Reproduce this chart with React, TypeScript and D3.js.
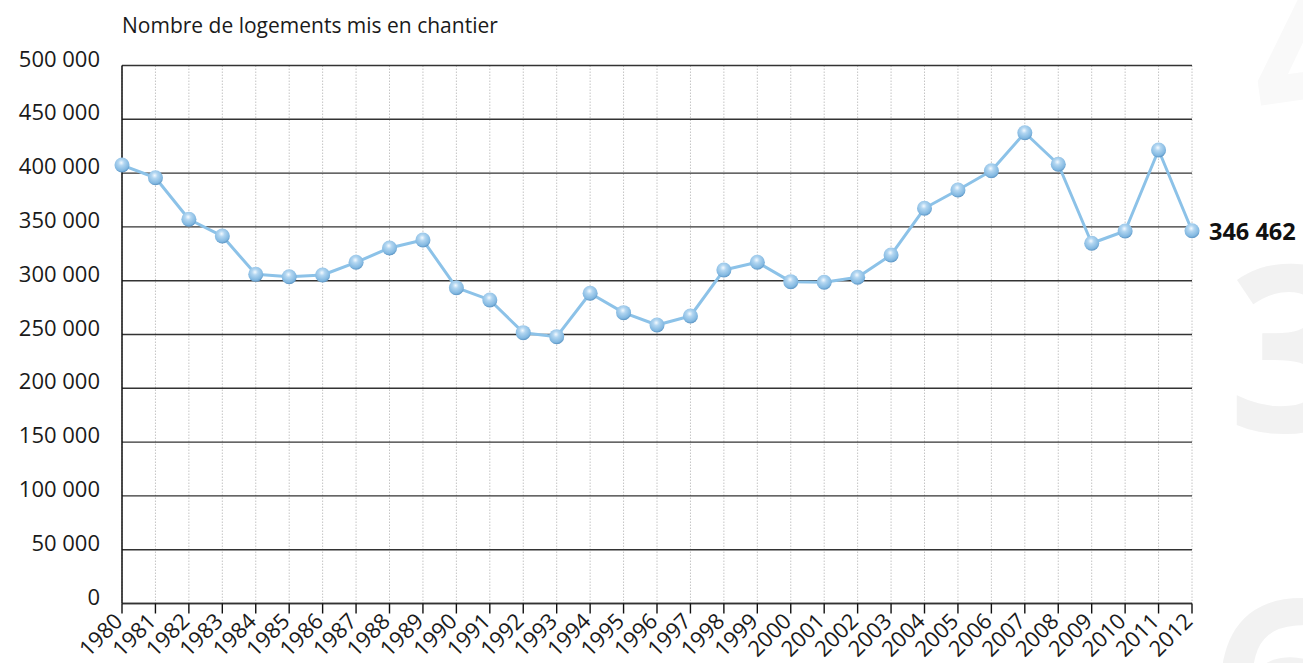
import React from "react";
import * as d3 from "d3";

const years = [
  1980, 1981, 1982, 1983, 1984, 1985, 1986, 1987, 1988, 1989, 1990,
  1991, 1992, 1993, 1994, 1995, 1996, 1997, 1998, 1999, 2000, 2001,
  2002, 2003, 2004, 2005, 2006, 2007, 2008, 2009, 2010, 2011, 2012,
];
const starts = [
  407500, 395700, 357100, 341500, 305900, 303700, 305300, 317100, 330400,
  337800, 293500, 282100, 251700, 248000, 288300, 270300, 258800, 267200,
  309900, 317100, 299100, 298500, 303200, 323900, 367300, 384300, 402200,
  437500, 408200, 334800, 346200, 421500, 346462,
];
const yTicks = [0, 50000, 100000, 150000, 200000, 250000, 300000, 350000, 400000, 450000, 500000];
const title = "Nombre de logements mis en chantier";
const lastLabel = "346 462";
const bgDigits = ["4", "3", "6"];

const W = 1303;
const H = 663;
const left = 122;
const right = 1192;
const top = 65.5;
const bottom = 603.5;

const fmt = (v: number) => d3.format(",")(v).replace(/,/g, " ");

export default function App() {
  const x = d3.scaleLinear().domain([years[0], years[years.length - 1]]).range([left, right]);
  const y = d3.scaleLinear().domain([0, 500000]).range([bottom, top]);
  const line = d3
    .line<number>()
    .x((_, i) => x(years[i]))
    .y((d) => y(d));
  const font = "'Open Sans', 'Noto Sans', sans-serif";
  const lastI = years.length - 1;
  const bgPos = [
    { x: 1262, y: 140, fill: "#f9f9f9", rot: -8 },
    { x: 1228, y: 432, fill: "#f2f2f2", rot: 0 },
    { x: 1212, y: 765, fill: "#f2f2f2", rot: 0 },
  ];
  return (
    <svg
      width={W}
      height={H}
      style={{ position: "absolute", left: 0, top: 0, display: "block", background: "#fff" }}
      fontFamily={font}
    >
      <defs>
        <radialGradient id="ball" cx="0.45" cy="0.35" r="0.65">
          <stop offset="0" stopColor="#f4faff" />
          <stop offset="0.3" stopColor="#b2d6f1" />
          <stop offset="0.8" stopColor="#82b8e1" />
          <stop offset="1" stopColor="#5a93c2" />
        </radialGradient>
      </defs>
      {/* faint background digits */}
      <g fontWeight="bold" fontSize={232} fontFamily="'Open Sans', sans-serif">
        {bgDigits.map((d, i) => (
          <text
            key={"bg" + i}
            x={bgPos[i].x}
            y={bgPos[i].y}
            fill={bgPos[i].fill}
            transform={`rotate(${bgPos[i].rot},${bgPos[i].x},${bgPos[i].y})`}
          >
            {d}
          </text>
        ))}
      </g>
      {/* vertical dotted grid */}
      {years.map((yr) => (
        <line
          key={"v" + yr}
          x1={x(yr)}
          x2={x(yr)}
          y1={top}
          y2={bottom}
          stroke="#c4c4c4"
          strokeWidth={1}
          strokeDasharray="1.5,1.5"
        />
      ))}
      {/* horizontal grid */}
      {yTicks.map((t) => (
        <line key={"h" + t} x1={left} x2={right} y1={y(t)} y2={y(t)} stroke="#333" strokeWidth={1.4} />
      ))}
      {/* axes */}
      <line x1={left} x2={left} y1={top} y2={bottom} stroke="#111" strokeWidth={1.5} />
      <line x1={left} x2={right} y1={bottom} y2={bottom} stroke="#333" strokeWidth={1.5} />
      {years.map((yr) => (
        <line key={"t" + yr} x1={x(yr)} x2={x(yr)} y1={bottom} y2={bottom + 10} stroke="#111" strokeWidth={1.4} />
      ))}
      {/* y labels */}
      {yTicks.map((t) => (
        <text key={"yl" + t} x={100} y={y(t) + 1} textAnchor="end" fontSize={22} fill="#1a1a1a">
          {fmt(t)}
        </text>
      ))}
      {/* x labels */}
      {years.map((yr) => (
        <text
          key={"xl" + yr}
          transform={`translate(${x(yr) + 2},${bottom + 19}) rotate(-45)`}
          textAnchor="end"
          fontSize={22}
          fill="#1a1a1a"
        >
          {yr}
        </text>
      ))}
      {/* title */}
      <text x={122} y={33} fontSize={21} fill="#1a1a1a">
        {title}
      </text>
      {/* line */}
      <path d={line(starts) || ""} fill="none" stroke="#8cc2e8" strokeWidth={3} strokeLinejoin="round" />
      {starts.map((v, i) => (
        <circle key={"p" + i} cx={x(years[i])} cy={y(v)} r={7.5} fill="url(#ball)" />
      ))}
      <text x={x(years[lastI]) + 17} y={y(starts[lastI]) + 9} fontSize={23.5} fontWeight="bold" fill="#111">
        {lastLabel}
      </text>
    </svg>
  );
}
